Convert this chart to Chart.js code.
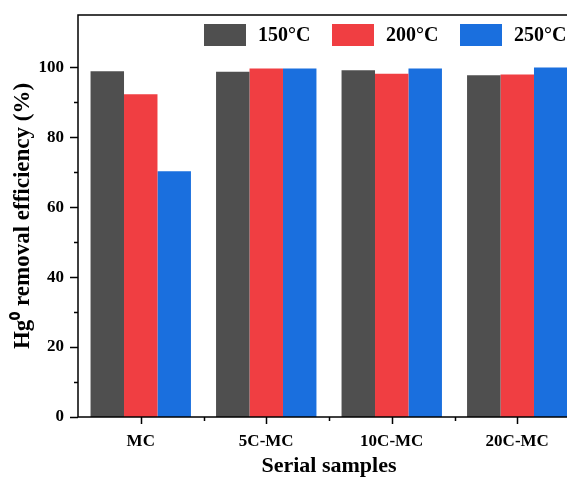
<!DOCTYPE html>
<html>
<head>
<meta charset="utf-8">
<script src="https://cdn.jsdelivr.net/npm/chart.js@4"></script>
<style>
  html, body { margin: 0; padding: 0; background: #fff; overflow: hidden; }
  #wrap { width: 567px; height: 485px; overflow: hidden; }
  #myChart { display: block; }
</style>
</head>
<body>
<div id="wrap"><canvas id="myChart" width="590" height="485"></canvas></div>
<script>
var samples = ['MC', '5C-MC', '10C-MC', '20C-MC'];
var temps = ['150\u00B0C', '200\u00B0C', '250\u00B0C'];
var eff150 = [98.9, 98.8, 99.2, 97.8];
var eff200 = [92.3, 99.7, 98.2, 98.0];
var eff250 = [70.3, 99.7, 99.7, 100.0];
var yTicks = [0, 20, 40, 60, 80, 100];
var colors = ['#4f4f4f', '#f03e42', '#1a6fde'];

var serif = '"Liberation Serif", "Times New Roman", serif';

// frame, custom tick marks and in-plot legend
var decor = {
  id: 'decor',
  afterDatasetsDraw: function(chart) {
    var ctx = chart.ctx, a = chart.chartArea;
    var x = chart.scales.x, y = chart.scales.y;
    ctx.save();
    ctx.strokeStyle = '#000';
    ctx.lineWidth = 1.5;
    ctx.beginPath();
    ctx.moveTo(a.right, a.top);
    ctx.lineTo(a.left, a.top);
    ctx.lineTo(a.left, a.bottom);
    ctx.lineTo(a.right, a.bottom);
    ctx.stroke();
    ctx.beginPath();
    for (var v = 0; v <= 100; v += 10) {
      var py = Math.round(y.getPixelForValue(v)) + 0.5;
      var len = v % 20 === 0 ? 8 : 4;
      ctx.moveTo(a.left - len, py);
      ctx.lineTo(a.left, py);
    }
    for (var i = 0; i < samples.length; i++) {
      var px = Math.round(x.getPixelForValue(i)) + 0.5;
      ctx.moveTo(px, a.bottom);
      ctx.lineTo(px, a.bottom + 7);
      if (i > 0) {
        var bx = Math.round((x.getPixelForValue(i - 1) + x.getPixelForValue(i)) / 2) + 0.5;
        ctx.moveTo(bx, a.bottom);
        ctx.lineTo(bx, a.bottom + 4);
      }
    }
    ctx.stroke();

    // legend
    ctx.font = 'bold 20px ' + serif;
    ctx.textBaseline = 'middle';
    ctx.textAlign = 'left';
    var lx = a.left + 126, ly = a.top + 9;
    chart.data.datasets.forEach(function(ds, k) {
      var bx = lx + k * 128;
      ctx.fillStyle = ds.backgroundColor;
      ctx.fillRect(bx, ly, 42, 22);
      ctx.fillStyle = '#000';
      ctx.fillText(ds.label, bx + 54, ly + 12);
    });
    ctx.restore();
  }
};

var chartdata = {
  labels: samples,
  datasets: [
    { label: temps[0], data: eff150, backgroundColor: colors[0] },
    { label: temps[1], data: eff200, backgroundColor: colors[1] },
    { label: temps[2], data: eff250, backgroundColor: colors[2] }
  ]
};

var ctx = document.getElementById('myChart');
var barGraph = new Chart(ctx, {
  type: 'bar',
  data: chartdata,
  plugins: [decor],
  options: {
    responsive: false,
    animation: false,
    layout: { padding: { top: 15, right: 10, left: 0, bottom: 0 } },
    datasets: { bar: { categoryPercentage: 0.8, barPercentage: 1.0, borderWidth: 0 } },
    plugins: { legend: { display: false }, tooltip: { enabled: false } },
    scales: {
      x: {
        grid: { display: false, drawTicks: false },
        border: { display: false },
        ticks: { color: '#000', padding: 14, font: { family: serif, size: 17, weight: 'bold' } },
        title: {
          display: true, text: 'Serial samples', color: '#000',
          padding: { top: 0, bottom: 5 },
          font: { family: serif, size: 22, weight: 'bold' }
        },
        afterFit: function(s) { s.height = 68; s.paddingLeft = 0; s.paddingRight = 0; }
      },
      y: {
        min: 0, max: 115,
        grid: { display: false, drawTicks: false },
        border: { display: false },
        afterBuildTicks: function(s) { s.ticks = yTicks.map(function(v) { return { value: v }; }); },
        ticks: { color: '#000', padding: 14, font: { family: serif, size: 17, weight: 'bold' } },
        title: {
          display: true, text: 'Hg\u2070 removal efficiency (%)', color: '#000',
          padding: { top: 9, bottom: 0 },
          font: { family: serif, size: 23, weight: 'bold' }
        },
        afterFit: function(s) { s.width = 78; s.paddingTop = 0; s.paddingBottom = 0; }
      }
    }
  }
});
</script>
</body>
</html>
